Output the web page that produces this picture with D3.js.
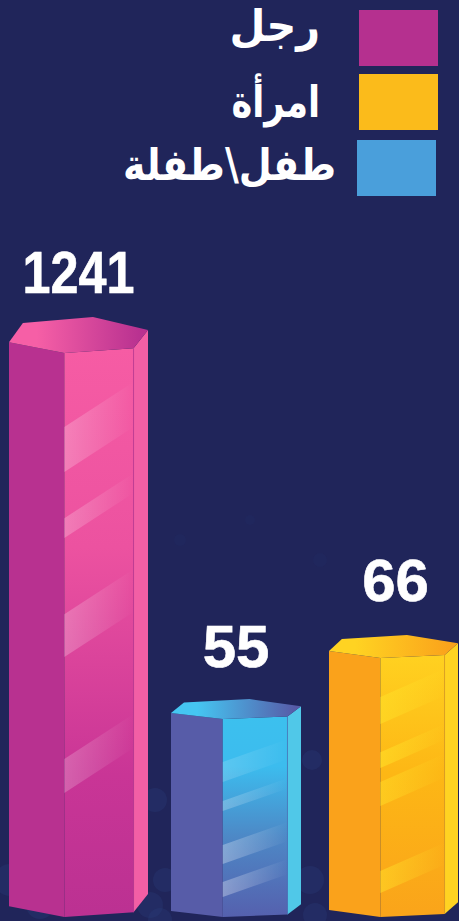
<!DOCTYPE html>
<html lang="ar">
<head>
<meta charset="utf-8">
<script src="https://cdnjs.cloudflare.com/ajax/libs/d3/7.8.5/d3.min.js"></script>
<style>
    html, body { margin: 0; padding: 0; background: #20255a; overflow: hidden; }
    svg { display: block; }
    text { fill: #fff; font-weight: bold; }
</style>
</head>
<body>
<script>
    // chart values
    const categories = ["رجل", "طفل\\طفلة", "امرأة"];
    const values = [1241, 55, 66];
    const legendOrder = ["رجل", "امرأة", "طفل\\طفلة"];

    const width = 459;
    const height = 921;
    const baseY = 917;

    // the bars in the source are not to scale, so the value axis is piecewise
    const y = d3.scaleLinear().domain([55, 66, 1241]).range([719, 658, 353]);
    const xLeft = d3.scaleOrdinal().domain(categories).range([9, 171, 329]);
    const barW = d3.scaleOrdinal().domain(categories).range([139, 130, 129]);
    const capDepth = d3.scaleOrdinal().domain(categories).range([36, 20, 23]);
    const labelGap = d3.scaleOrdinal().domain(categories).range([24, 32, 34]);
    const labelShift = d3.scaleOrdinal().domain(categories).range([0, 0, 2]);
    const labelStretch = d3.scaleOrdinal().domain(categories).range([0.84, 1, 1]);

    const palette = {
        "رجل": {
            left: "#b83190", right: "#f25fa5", capA: "#f65fa6", capB: "#b83190", stripe: "#ffffff", edge: "#c43a96",
            face: [[0, "#f65ca4"], [0.35, "#ec52a0"], [0.75, "#c93596"], [1, "#bb3192"]]
        },
        "طفل\\طفلة": {
            left: "#575ca8", right: "#50c8e8", capA: "#45c6f2", capB: "#575ca8", stripe: "#ffffff", edge: "#4f78be",
            face: [[0, "#3cc0ee"], [0.25, "#3cbcee"], [0.6, "#4d88c6"], [1, "#5560ae"]]
        },
        "امرأة": {
            left: "#faa21b", right: "#ffd322", capA: "#ffd322", capB: "#faa21b", stripe: "#ffe52a", edge: "#e8a020",
            face: [[0, "#ffd120"], [0.45, "#fdb715"], [1, "#faa41a"]]
        }
    };
    const legendColor = d3.scaleOrdinal().domain(legendOrder).range(["#b5308f", "#fbbb1b", "#4a9fdb"]);

    // stripes on the front face: top and bottom of the left end as a share of face height, opacity
    const stripes = {
        "رجل": [[0.131, 0.211, 0.24], [0.293, 0.328, 0.24], [0.463, 0.539, 0.24], [0.72, 0.78, 0.22]],
        "طفل\\طفلة": [[0.217, 0.318, 0.16], [0.414, 0.465, 0.24], [0.636, 0.732, 0.3], [0.823, 0.899, 0.32]],
        "امرأة": [[0.151, 0.255, 0.5], [0.364, 0.425, 0.55], [0.479, 0.571, 0.45], [0.822, 0.907, 0.5]]
    };
    const stripeRise = d3.scaleOrdinal().domain(categories).range([0.65, 0.35, 0.44]);

    const bubbles = [[10, 880, 16], [40, 905, 14], [150, 905, 13], [155, 800, 12], [165, 880, 12], [310, 880, 14], [312, 760, 10],
        [20, 500, 6], [180, 540, 6], [250, 520, 5], [320, 560, 7], [160, 920, 12], [315, 915, 12]];

    const svg = d3.select("body").append("svg")
        .attr("width", width)
        .attr("height", height)
        .attr("viewBox", "0 0 " + width + " " + height);
    const defs = svg.append("defs");

    svg.append("rect").attr("width", width).attr("height", height).attr("fill", "#20255a");

    svg.append("g").selectAll("circle")
        .data(bubbles)
        .enter()
        .append("circle")
        .attr("cx", d => d[0])
        .attr("cy", d => d[1])
        .attr("r", d => d[2])
        .attr("fill", "#2a3f7c")
        .attr("opacity", d => d[1] > 700 ? 0.28 : 0.1);

    function gradient(id, x2, y2, stops) {
        const g = defs.append("linearGradient").attr("id", id)
            .attr("x1", 0).attr("y1", 0).attr("x2", x2).attr("y2", y2);
        stops.forEach(s => {
            g.append("stop").attr("offset", s[0]).attr("stop-color", s[1]).attr("stop-opacity", s[2] === undefined ? 1 : s[2]);
        });
    }

    const line = d3.line();

    categories.forEach((cat, i) => {
        const c = palette[cat];
        const v = values[i];
        const x0 = xLeft(cat);
        const w = barW(cat);
        const d = capDepth(cat);
        const top = y(v);

        // vertices of the hexagon, front left corner is the reference
        const px = t => x0 + t * w;
        const fl = px(0.398), fr = px(0.896), br = px(1), bl = px(0.604), al = px(0.1);

        gradient("cap" + i, 1, 0, [[0, c.capA], [0.2, c.capA], [0.95, c.capB]]);
        gradient("face" + i, 0, 1, c.face);
        gradient("stripe" + i, 1, 0, [[0, c.stripe, 1], [1, c.stripe, 0]]);

        const g = svg.append("g");

        g.append("path")
            .attr("d", line([[x0, top - d * 0.3], [fl, top], [fl, baseY], [x0, baseY - d * 0.3]]) + "Z")
            .attr("fill", c.left);
        g.append("path")
            .attr("d", line([[fr, top - d * 0.13], [br, top - d * 0.64], [br, baseY - d * 0.64], [fr, baseY - d * 0.13]]) + "Z")
            .attr("fill", c.right);
        g.append("path")
            .attr("d", line([[fl, top], [fr, top - d * 0.13], [fr, baseY - d * 0.13], [fl, baseY]]) + "Z")
            .attr("fill", "url(#face" + i + ")");

        const faceH = baseY - top;
        g.selectAll("path.stripe")
            .data(stripes[cat])
            .enter()
            .append("path")
            .attr("class", "stripe")
            .attr("d", s => {
                const rise = (fr - fl) * stripeRise(cat);
                const a = top + s[0] * faceH, b = top + s[1] * faceH;
                return line([[fl, a], [fr, a - rise], [fr, b - rise], [fl, b]]) + "Z";
            })
            .attr("fill", "url(#stripe" + i + ")")
            .attr("opacity", s => s[2]);

        // thin edge between front and right face
        g.append("path")
            .attr("d", line([[fr, top - d * 0.13], [fr, baseY - d * 0.13]]))
            .attr("stroke", c.edge)
            .attr("stroke-width", 0.7)
            .attr("fill", "none");

        g.append("path")
            .attr("d", line([[x0, top - d * 0.3], [al, top - d * 0.83], [bl, top - d], [br, top - d * 0.64], [fr, top - d * 0.13], [fl, top]]) + "Z")
            .attr("fill", "url(#cap" + i + ")");

        g.append("text")
            .attr("transform", "translate(" + (x0 + w / 2 + labelShift(cat)) + "," + (top - d - labelGap(cat)) + ") scale(" + labelStretch(cat) + ",1)")
            .attr("text-anchor", "middle")
            .attr("font-family", "Liberation Sans, Arial, sans-serif")
            .attr("font-size", 60)
            .attr("stroke", "#fff")
            .attr("stroke-width", 0.6)
            .text(v);
    });

    // legend
    const legendX = d3.scaleOrdinal().domain(legendOrder).range([359, 359, 357]);
    const legendY = d3.scaleOrdinal().domain(legendOrder).range([10, 74, 140]);
    const legendTextX = d3.scaleOrdinal().domain(legendOrder).range([320, 320, 336]);
    const legendTextY = d3.scaleOrdinal().domain(legendOrder).range([41, 117, 180]);
    const legendSize = d3.scaleOrdinal().domain(legendOrder).range([44, 44, 44]);
    const legendStretch = d3.scaleOrdinal().domain(legendOrder).range([0.94, 0.8, 0.865]);

    const legend = svg.append("g").selectAll("g")
        .data(legendOrder)
        .enter()
        .append("g");
    legend.append("rect")
        .attr("x", d => legendX(d))
        .attr("y", d => legendY(d))
        .attr("width", 79)
        .attr("height", 56)
        .attr("fill", d => legendColor(d));
    legend.append("text")
        .attr("transform", d => "translate(" + legendTextX(d) + "," + legendTextY(d) + ") scale(" + legendStretch(d) + ",1)")
        .attr("text-anchor", "start")
        .attr("direction", "rtl")
        .attr("font-family", "DejaVu Sans, Noto Sans, sans-serif")
        .attr("font-size", d => legendSize(d))
        .text(d => d);
</script>
</body>
</html>
